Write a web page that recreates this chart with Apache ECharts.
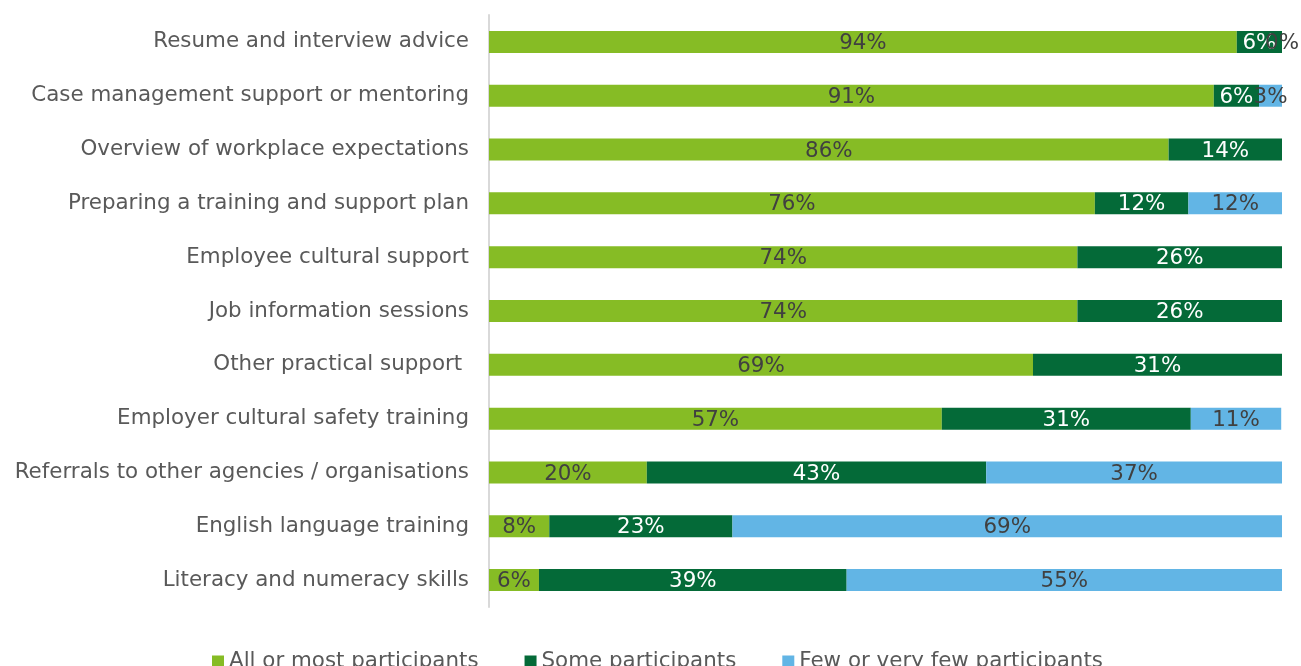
<!DOCTYPE html>
<html>
<head>
<meta charset="utf-8">
<script src="https://cdn.jsdelivr.net/npm/echarts@6/dist/echarts.min.js"></script>
<style>
  html, body { margin: 0; padding: 0; background: #fff; }
  #chart { width: 1301px; height: 666px; }
</style>
</head>
<body>
<div id="chart"></div>
<script>
const categories = [
    'Resume and interview advice',
    'Case management support or mentoring',
    'Overview of workplace expectations',
    'Preparing a training and support plan',
    'Employee cultural support',
    'Job information sessions',
    'Other practical support ',
    'Employer cultural safety training',
    'Referrals to other agencies / organisations',
    'English language training',
    'Literacy and numeracy skills'
]
const allOrMost = [94.3, 91.4, 85.7, 76.4, 74.2, 74.2, 68.6, 57.1, 19.9, 7.6, 6.3]
const some = [5.7, 5.7, 14.3, 11.8, 25.8, 25.8, 31.4, 31.4, 42.8, 23.1, 38.8]
const fewOrVeryFew = [0, 2.9, null, 11.8, null, null, null, 11.4, 37.3, 69.3, 54.9]

// 标签：四舍五入显示百分比
const pct = p => Math.round(p.value) + '%'
const fontSize = 21.4

const option = {
    textStyle: { fontFamily: 'DejaVu Sans' },
    grid: {
        left: 489,
        right: 19,
        top: 15,
        height: 592,
        containLabel: false
    },
    legend: {
        left: 207,
        top: 646,
        itemWidth: 12,
        itemHeight: 12,
        itemGap: 46,
        icon: 'rect',
        textStyle: { color: '#595959', fontSize: fontSize, fontFamily: 'DejaVu Sans' }
    },
    xAxis: {
        type: 'value',
        min: 0,
        max: 100,
        show: false
    },
    yAxis: {
        type: 'category',
        inverse: true,
        data: categories,
        axisTick: { show: false },
        axisLine: { lineStyle: { color: '#d9d9d9', width: 2 } },
        axisLabel: { color: '#595959', fontSize: fontSize, margin: 20, padding: [3, 0, 0, 0] }
    },
    series: [
        {
            name: 'All or most participants',
            type: 'bar',
            stack: 'total',
            barWidth: 22,
            itemStyle: { color: '#86bc25' },
            label: { show: true, position: 'inside', offset: [0, 1.5], color: '#404040', fontSize: fontSize, formatter: pct },
            data: allOrMost
        },
        {
            name: 'Some participants',
            type: 'bar',
            stack: 'total',
            barWidth: 22,
            itemStyle: { color: '#046a38' },
            label: { show: true, position: 'inside', offset: [0, 1.5], color: '#ffffff', fontSize: fontSize, formatter: pct },
            data: some
        },
        {
            name: 'Few or very few participants',
            type: 'bar',
            stack: 'total',
            barWidth: 22,
            itemStyle: { color: '#62b5e5' },
            label: { show: true, position: 'inside', offset: [0, 1.5], color: '#404040', fontSize: fontSize, formatter: pct },
            data: fewOrVeryFew
        }
    ]
}

const chart = echarts.init(document.getElementById('chart'))
chart.setOption(option)
window.addEventListener('resize', () => chart.resize())
</script>
</body>
</html>
